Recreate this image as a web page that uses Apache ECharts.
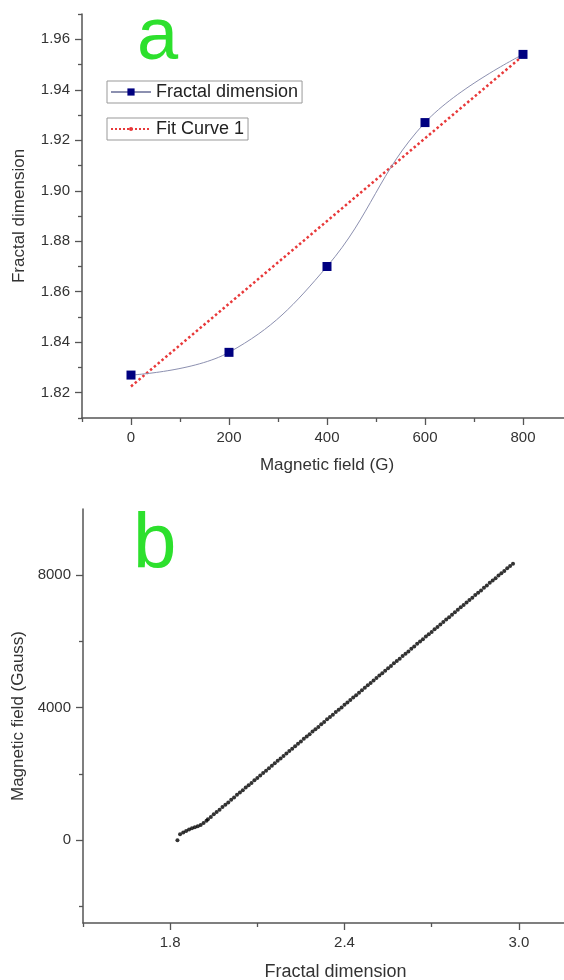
<!doctype html>
<html lang="en">
<head>
    <meta charset="UTF-8">
    <title>Fractal dimension vs magnetic field</title>
    <script src="https://cdn.jsdelivr.net/npm/echarts@6/dist/echarts.min.js"></script>
    <style>
        html, body { margin: 0; padding: 0; background: #fff; }
        #main { width: 564px; height: 980px; }
    </style>
</head>
<body>
<div id="main"></div>
<script type="text/javascript">
// panel a data
var aField = [0, 200, 400, 600, 800];
var aFractal = [1.827, 1.836, 1.870, 1.927, 1.954];
var aFitX = [0, 800];
var aFitY = [1.8225, 1.9535];
var aXTicks = [0, 200, 400, 600, 800];
var aXMinor = [-100, 100, 300, 500, 700];
var aYTicks = [1.82, 1.84, 1.86, 1.88, 1.90, 1.92, 1.94, 1.96];
var aYMinor = [1.81, 1.83, 1.85, 1.87, 1.89, 1.91, 1.93, 1.95, 1.97];

// panel b data
var bFractal = [1.825, 1.834, 1.845, 1.855, 1.865, 1.875, 1.885, 1.895, 1.905, 1.915, 1.925,
    1.93, 1.94, 1.95, 1.96, 1.97, 1.98, 1.99, 2.00, 2.01, 2.02, 2.03, 2.04, 2.05, 2.06, 2.07, 2.08, 2.09,
    2.10, 2.11, 2.12, 2.13, 2.14, 2.15, 2.16, 2.17, 2.18, 2.19, 2.20, 2.21, 2.22, 2.23, 2.24, 2.25, 2.26,
    2.27, 2.28, 2.29, 2.30, 2.31, 2.32, 2.33, 2.34, 2.35, 2.36, 2.37, 2.38, 2.39, 2.40, 2.41, 2.42, 2.43,
    2.44, 2.45, 2.46, 2.47, 2.48, 2.49, 2.50, 2.51, 2.52, 2.53, 2.54, 2.55, 2.56, 2.57, 2.58, 2.59, 2.60,
    2.61, 2.62, 2.63, 2.64, 2.65, 2.66, 2.67, 2.68, 2.69, 2.70, 2.71, 2.72, 2.73, 2.74, 2.75, 2.76, 2.77,
    2.78, 2.79, 2.80, 2.81, 2.82, 2.83, 2.84, 2.85, 2.86, 2.87, 2.88, 2.89, 2.90, 2.91, 2.92, 2.93, 2.94,
    2.95, 2.96, 2.97, 2.98];
var bField = [0, 180, 230, 280, 320, 360, 390, 420, 460, 520, 590,
    630, 700, 780, 850, 920, 1000, 1070, 1140, 1220, 1290, 1370, 1440, 1510, 1590, 1660, 1730, 1810,
    1880, 1950, 2030, 2100, 2170, 2250, 2320, 2400, 2470, 2540, 2620, 2690, 2760, 2840, 2910, 2980, 3060,
    3130, 3200, 3280, 3350, 3420, 3500, 3570, 3650, 3720, 3790, 3870, 3940, 4010, 4090, 4160, 4230, 4310,
    4380, 4450, 4530, 4600, 4680, 4750, 4820, 4900, 4970, 5040, 5120, 5190, 5260, 5340, 5410, 5480, 5560,
    5630, 5700, 5780, 5850, 5930, 6000, 6070, 6150, 6220, 6290, 6370, 6440, 6510, 6590, 6660, 6730, 6810,
    6880, 6960, 7030, 7100, 7180, 7250, 7320, 7400, 7470, 7540, 7620, 7690, 7770, 7840, 7910, 7990, 8060,
    8130, 8210, 8280, 8350];
var bXTicks = [1.8, 2.4, 3.0];
var bXMinor = [1.5, 2.1, 2.7];
var bYTicks = [0, 4000, 8000];
var bYMinor = [-2000, 2000, 6000];

var font = 'Arial, "Liberation Sans", sans-serif';
var axisCol = '#555';

function zip(xs, ys) {
    var out = [];
    for (var i = 0; i < xs.length; i++) out.push([xs[i], ys[i]]);
    return out;
}

function mainAxis(grid, min, max, ticks, name, nameGap, fmt, extra) {
    var ax = {
        type: 'value', gridIndex: grid, min: min, max: max,
        name: name, nameLocation: 'middle', nameGap: nameGap,
        nameTextStyle: { fontSize: 17, color: '#333', fontFamily: font },
        axisLine: { show: true, onZero: false, lineStyle: { color: axisCol, width: 1.5 } },
        axisTick: { show: true, inside: false, length: 7, customValues: ticks, lineStyle: { color: axisCol, width: 1.3 } },
        axisLabel: { show: true, margin: 12, customValues: ticks, fontSize: 15, color: '#333', fontFamily: font, formatter: fmt },
        splitLine: { show: false }
    };
    for (var k in extra) ax[k] = extra[k];
    return ax;
}

function minorAxis(grid, min, max, ticks, pos) {
    return {
        type: 'value', gridIndex: grid, min: min, max: max, position: pos, offset: 0,
        axisLine: { show: false, onZero: false },
        axisTick: { show: true, inside: false, length: 4, customValues: ticks, lineStyle: { color: axisCol, width: 1.3 } },
        axisLabel: { show: false },
        splitLine: { show: false }
    };
}

var myChart = echarts.init(document.getElementById('main'));

var option = {
    animation: false,
    backgroundColor: '#fff',
    textStyle: { fontFamily: font },
    grid: [
        { left: 82, top: 14, width: 490, height: 404, outerBoundsMode: 'none', containLabel: false },
        { left: 83, top: 509, width: 523, height: 414, outerBoundsMode: 'none', containLabel: false }
    ],
    xAxis: [
        mainAxis(0, -100, 900, aXTicks, 'Magnetic field (G)', 39, function (v) { return String(v); }, { position: 'bottom' }),
        minorAxis(0, -100, 900, aXMinor, 'bottom'),
        mainAxis(1, 1.5, 3.3, bXTicks, 'Fractal dimension', 40, function (v) { return v.toFixed(1); }, {
            position: 'bottom',
            nameTextStyle: { fontSize: 18, color: '#333', fontFamily: font, padding: [0, 18, 0, 0] }
        }),
        minorAxis(1, 1.5, 3.3, bXMinor, 'bottom')
    ],
    yAxis: [
        mainAxis(0, 1.81, 1.97, aYTicks, 'Fractal dimension', 54, function (v) { return v.toFixed(2); }, { position: 'left' }),
        minorAxis(0, 1.81, 1.97, aYMinor, 'left'),
        mainAxis(1, -2500, 10000, bYTicks, 'Magnetic field (Gauss)', 52, function (v) { return String(v); }, { position: 'left' }),
        minorAxis(1, -2500, 10000, bYMinor, 'left')
    ],
    legend: [
        {
            data: ['Fractal dimension'], left: 107, top: 81, selectedMode: false,
            borderColor: '#999', borderWidth: 1, padding: [2, 4, 2, 3],
            itemWidth: 40, itemHeight: 9, itemGap: 0,
            textStyle: { fontSize: 18, color: '#222', fontFamily: font }
        },
        {
            data: ['Fit Curve 1'], left: 107, top: 118, selectedMode: false,
            borderColor: '#999', borderWidth: 1, padding: [2, 4, 2, 3],
            itemWidth: 40, itemHeight: 5, itemGap: 0,
            textStyle: { fontSize: 18, color: '#222', fontFamily: font }
        }
    ],
    graphic: [
        {
            type: 'text', left: 137, top: 2, z: 10,
            style: { text: 'a', fill: '#2de02d', fontSize: 74, fontFamily: font }
        },
        {
            type: 'text', left: 133, top: 507, z: 10,
            style: { text: 'b', fill: '#2de02d', fontSize: 78, fontFamily: font }
        }
    ],
    series: [
        {
            name: 'Fit Curve 1', type: 'line', xAxisIndex: 0, yAxisIndex: 0,
            data: zip(aFitX, aFitY), symbol: 'none',
            lineStyle: { color: '#e8393a', width: 2.5, type: 'dotted' },
            itemStyle: { color: '#e8393a' },
            z: 3
        },
        {
            name: 'Fractal dimension', type: 'line', xAxisIndex: 0, yAxisIndex: 0,
            data: zip(aField, aFractal), smooth: 0.4,
            symbol: 'rect', symbolSize: 9,
            lineStyle: { color: '#8c90b0', width: 1 },
            itemStyle: { color: '#000080' },
            z: 4
        },
        {
            name: 'b', type: 'scatter', xAxisIndex: 2, yAxisIndex: 2,
            data: zip(bFractal, bField), symbol: 'circle', symbolSize: 4,
            itemStyle: { color: '#000' }
        }
    ]
};

myChart.setOption(option);
</script>
</body>
</html>
